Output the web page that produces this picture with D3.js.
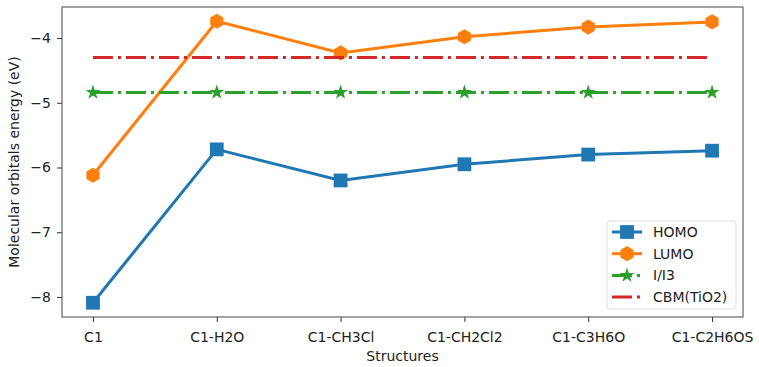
<!DOCTYPE html>
<html lang="en">
<meta charset="utf-8">
<title>Molecular orbitals energy</title>
<style>
  body { margin: 0; background: #fff; }
  svg { font-family: "DejaVu Sans", sans-serif; }
</style>
<body>
<div id="chart"></div>
<script src="https://cdn.jsdelivr.net/npm/d3@7"></script>
<script>
// Data
var structures = ["C1", "C1-H2O", "C1-CH3Cl", "C1-CH2Cl2", "C1-C3H6O", "C1-C2H6OS"];
var homo = [-8.09, -5.72, -6.20, -5.95, -5.80, -5.74];
var lumo = [-6.12, -3.74, -4.23, -3.98, -3.83, -3.75];
var redox = [-4.84, -4.84, -4.84, -4.84, -4.84, -4.84];
var cbm = [-4.30, -4.30, -4.30, -4.30, -4.30, -4.30];
var yTicks = [-4, -5, -6, -7, -8];

var W = 759, H = 367;
var margin = {left: 62, right: 16, top: 7, bottom: 50};

var svg = d3.select("#chart").append("svg").attr("width", W).attr("height", H);

// index-based x scale with matplotlib's 5% padding
var x = d3.scaleLinear().domain([-0.25, structures.length - 0.75]).range([margin.left, W - margin.right]);
var y = d3.scaleLinear().domain([-8.31, -3.52]).range([H - margin.bottom, margin.top]);

var series = [
  {name: "HOMO", values: homo, color: "#1f77b4", dash: null, marker: "square", size: 190},
  {name: "LUMO", values: lumo, color: "#ff7f0e", dash: null, marker: "hex", size: 150},
  {name: "I/I3", values: redox, color: "#2ca02c", dash: "20,5,3,5", marker: "star", size: 70},
  {name: "CBM(TiO2)", values: cbm, color: "#d62728", dash: "20,5,3,5", marker: null, size: 0}
];

function markerPath(type, size) {
  if (type === "square") return d3.symbol(d3.symbolSquare, size)();
  if (type === "star") return d3.symbol(d3.symbolStar, size)();
  if (type === "hex") {
    // pointy-top hexagon
    var r = Math.sqrt(size / 2.6);
    var pts = d3.range(6).map(function(i) {
      var a = Math.PI / 3 * i - Math.PI / 2;
      return [r * Math.cos(a), r * Math.sin(a)];
    });
    return "M" + pts.join("L") + "Z";
  }
  return null;
}

var line = d3.line().x(function(d, i) { return x(i); }).y(function(d) { return y(d); });

// axes
var xAxis = d3.axisBottom(x).tickValues(d3.range(structures.length))
  .tickFormat(function(i) { return structures[i]; }).tickSize(5).tickPadding(10);
var yAxis = d3.axisLeft(y).tickValues(yTicks)
  .tickFormat(function(d) { return "\u2212" + Math.abs(d); }).tickSize(5).tickPadding(6);

var gx = svg.append("g").attr("transform", "translate(0," + (H - margin.bottom) + ")").call(xAxis);
var gy = svg.append("g").attr("transform", "translate(" + margin.left + ",0)").call(yAxis);
[gx, gy].forEach(function(g) {
  g.select(".domain").remove();
  g.selectAll("text").attr("font-size", 14).attr("fill", "#222").attr("font-family", "DejaVu Sans, sans-serif");
  g.selectAll("line").attr("stroke", "#333");
});

// lines and markers
series.forEach(function(s) {
  svg.append("path").datum(s.values)
    .attr("fill", "none").attr("stroke", s.color).attr("stroke-width", 3)
    .attr("stroke-dasharray", s.dash).attr("d", line);
  if (s.marker) {
    svg.append("g").selectAll("path").data(s.values).join("path")
      .attr("transform", function(d, i) { return "translate(" + x(i) + "," + y(d) + ")"; })
      .attr("d", markerPath(s.marker, s.size))
      .attr("fill", s.color);
  }
});

// frame
svg.append("rect")
  .attr("x", margin.left).attr("y", margin.top)
  .attr("width", W - margin.left - margin.right).attr("height", H - margin.top - margin.bottom)
  .attr("fill", "none").attr("stroke", "#444").attr("stroke-width", 1);

// axis labels
svg.append("text").attr("x", (margin.left + W - margin.right) / 2).attr("y", 361)
  .attr("text-anchor", "middle").attr("font-size", 14).attr("fill", "#222").text("Structures");
svg.append("text").attr("transform", "translate(19," + ((margin.top + H - margin.bottom) / 2) + ") rotate(-90)")
  .attr("text-anchor", "middle").attr("font-size", 14).attr("fill", "#222").text("Molecular orbitals energy (eV)");

// legend
var lg = svg.append("g").attr("transform", "translate(607,221)");
lg.append("rect").attr("width", 129).attr("height", 88).attr("rx", 3)
  .attr("fill", "#fff").attr("fill-opacity", 0.8).attr("stroke", "#ddd");
series.forEach(function(s, i) {
  var yy = 11 + i * 21.7;
  var row = lg.append("g").attr("transform", "translate(0," + yy + ")");
  row.append("line").attr("x1", 5).attr("x2", 35).attr("y1", 0).attr("y2", 0)
    .attr("stroke", s.color).attr("stroke-width", 3).attr("stroke-dasharray", s.dash);
  if (s.marker) {
    row.append("path").attr("transform", "translate(20,0)")
      .attr("d", markerPath(s.marker, s.size)).attr("fill", s.color);
  }
  row.append("text").attr("x", 46).attr("y", 5).attr("font-size", 14).attr("fill", "#222").text(s.name);
});
</script>
</body>
</html>
